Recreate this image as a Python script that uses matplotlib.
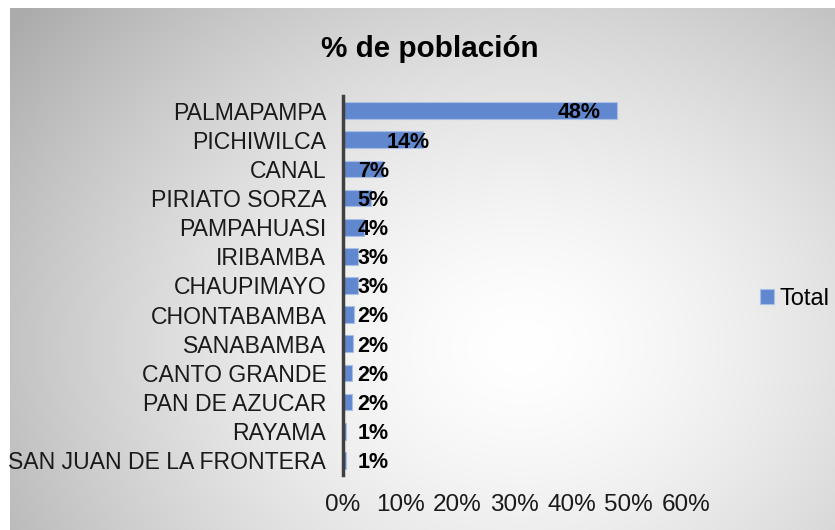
import matplotlib.pyplot as plt
import numpy as np

plt.rcParams['font.family'] = ['Liberation Sans', 'DejaVu Sans']

categories = ['PALMAPAMPA', 'PICHIWILCA', 'CANAL', 'PIRIATO SORZA', 'PAMPAHUASI',
              'IRIBAMBA', 'CHAUPIMAYO', 'CHONTABAMBA', 'SANABAMBA', 'CANTO GRANDE',
              'PAN DE AZUCAR', 'RAYAMA', 'SAN JUAN DE LA FRONTERA']
values = [48.0, 14.0, 7.0, 4.9, 3.6, 2.7, 2.6, 1.9, 1.7, 1.5, 1.5, 0.6, 0.6]
xticks = [0, 10, 20, 30, 40, 50, 60]

fig = plt.figure(figsize=(8.35, 5.3), dpi=100)
fig.patch.set_facecolor('white')

# fondo con degradado radial
bg = fig.add_axes([10 / 835, 0, 1 - 10 / 835, 522 / 530])
gx, gy = np.meshgrid(np.linspace(0, 1, 400), np.linspace(0, 1, 260))
r = np.sqrt(((gx - 0.62) / 0.65) ** 2 + ((gy - 0.35) / 0.85) ** 2)
shade = 1.0 - 0.25 * np.clip(r, 0, 1.2) ** 1.5
bg.imshow(np.dstack([shade] * 3), extent=[0, 1, 0, 1], aspect='auto', origin='lower')
bg.axis('off')

ax = fig.add_axes([343 / 835, 55 / 530, 343 / 835, 379 / 530])
ax.patch.set_alpha(0)
y = np.arange(len(categories))
ax.barh(y, values, height=0.57, color='#6187CE', edgecolor='#A9BFE6', linewidth=0.8,
        label='Total', zorder=2)
ax.set_ylim(len(categories) - 0.5, -0.5)
ax.set_xlim(0, 60)
ax.set_yticks(y)
ax.set_yticklabels(categories, fontsize=16.6, color='#1a1a1a')
ax.set_xticks(xticks)
ax.set_xticklabels([f'{t}%' for t in xticks], fontsize=17.5, color='#1a1a1a')
ax.tick_params(axis='both', length=0)
ax.tick_params(axis='y', pad=12)
ax.tick_params(axis='x', pad=14)
for s in ['top', 'right', 'bottom']:
    ax.spines[s].set_visible(False)
ax.spines['left'].set_color('#404040')
ax.spines['left'].set_linewidth(2.5)
ax.spines['left'].set_zorder(3)

for i, v in enumerate(values):
    if v > 40:
        xt = v - 3
    else:
        xt = max(v + 1.1, 8.0)
    ax.text(xt, i + 0.08, f'{v:.0f}%', ha='right', va='center', fontsize=15.5,
            fontweight='bold', color='black', zorder=4)

fig.text(0.515, 0.908, '% de población', ha='center', va='center', fontsize=21.3,
         fontweight='bold', color='black')

leg = fig.legend(loc='center left', bbox_to_anchor=(748 / 835, 1 - 299 / 530),
                 frameon=False, fontsize=17, handlelength=0.6, handleheight=0.6,
                 handletextpad=0.25, borderpad=0)

fig.savefig('out.png', dpi=100)
